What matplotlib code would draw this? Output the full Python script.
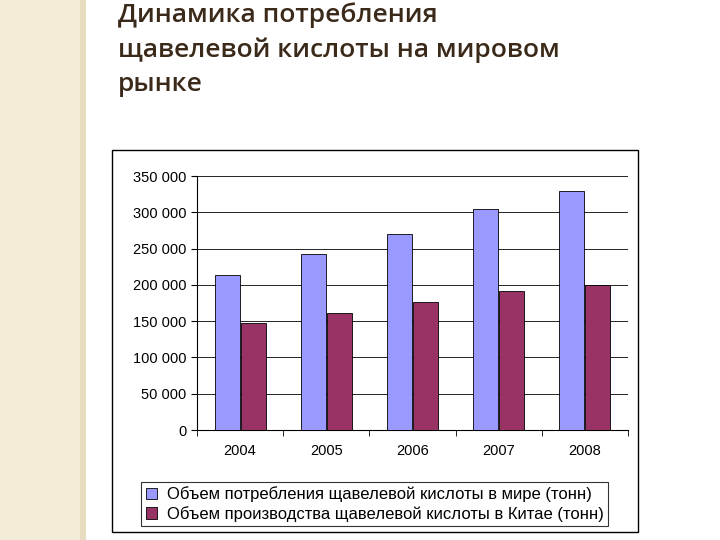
import matplotlib
matplotlib.use("Agg")
import matplotlib.pyplot as plt
from matplotlib.patches import Rectangle
import numpy as np

years = ["2004", "2005", "2006", "2007", "2008"]
world = [213000, 242000, 270000, 304000, 330000]
china = [148000, 161000, 176000, 191000, 200000]
yticks = [0, 50000, 100000, 150000, 200000, 250000, 300000, 350000]
ylabels = ["0", "50 000", "100 000", "150 000", "200 000", "250 000", "300 000", "350 000"]

W, H = 720, 540
fig = plt.figure(figsize=(7.2, 5.4), dpi=100)
fig.patch.set_facecolor("white")

fig.patches.append(Rectangle((0, 0), 80/W, 1, transform=fig.transFigure, facecolor="#f3ecd6", edgecolor="none", zorder=0))
fig.patches.append(Rectangle((80/W, 0), 6/W, 1, transform=fig.transFigure, facecolor="#e6dcc0", edgecolor="none", zorder=0))
fig.patches.append(Rectangle((112/W, 1-532/H), 526/W, 382/H, transform=fig.transFigure, facecolor="white", edgecolor="black", lw=1, zorder=0))

fig.text(118/W, 1-2/H, "Динамика потребления\nщавелевой кислоты на мировом\nрынке", fontsize=19, color="#3b2a1a",
         family="Open Sans", fontweight="semibold", va="top", ha="left", linespacing=1.5, zorder=5)

ax = fig.add_axes([197/W, 1-430/H, 431/W, 254/H], zorder=3)
ax.patch.set_alpha(0)
x = np.arange(len(years))
w = 0.29
ax.bar(x - w/2 - 0.005, world, w, color="#9999ff", edgecolor="black", lw=0.6, zorder=3, label="Объем потребления щавелевой кислоты в мире (тонн)")
ax.bar(x + w/2 + 0.005, china, w, color="#993366", edgecolor="black", lw=0.6, zorder=3, label="Объем производства щавелевой кислоты в Китае (тонн)")
ax.set_ylim(0, 350000)
ax.set_xlim(-0.5, 4.5)
ax.set_yticks(yticks)
ax.set_yticklabels(ylabels, fontsize=10.5, family="Liberation Sans")
ax.set_xticks(x)
ax.set_xticklabels(years, fontsize=10.5, family="Liberation Sans")
ax.set_xticks(np.arange(-0.5, 5, 1), minor=True)
ax.tick_params(axis="x", which="major", length=0, pad=10)
ax.tick_params(axis="x", which="minor", length=4, direction="out")
ax.tick_params(axis="y", length=4)
ax.grid(axis="y", color="black", lw=0.6, zorder=0)
for s in ["top", "right"]:
    ax.spines[s].set_visible(False)

leg = fig.legend(loc="upper left", bbox_to_anchor=(133/W, 1-474/H), ncol=1, frameon=True, fancybox=False,
                 edgecolor="black", prop={"family": "Liberation Sans", "size": 12}, handlelength=0.7, handleheight=0.7,
                 borderpad=0.25, labelspacing=0.2, handletextpad=0.6)
leg.get_frame().set_linewidth(0.8)
leg.set_zorder(6)

fig.savefig("out.png", dpi=100)
